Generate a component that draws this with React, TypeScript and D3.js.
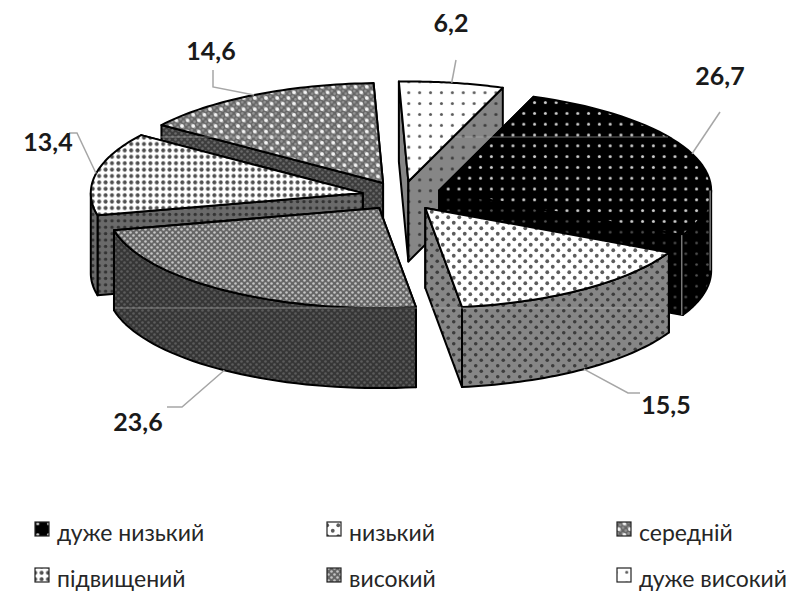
import { useEffect, useRef } from "react";
import * as d3 from "d3";

const categories = ["дуже низький", "низький", "середній", "підвищений", "високий", "дуже високий"];
// the fill patterns tie 14,6 to "середній" and 23,6 to "високий"
const values = [26.7, 15.5, 14.6, 13.4, 23.6, 6.2];
const labels = ["26,7", "15,5", "14,6", "13,4", "23,6", "6,2"];

// clockwise from the top of the pie
const pieOrder = [5, 0, 1, 4, 3, 2];
// painter's order, back to front
const drawOrder = [5, 0, 2, 3, 4, 1];

const labelPos = [[720, 75], [666, 404], [211, 50], [48, 141], [138, 421], [451, 22]];
const leaderElbows = [
  [[720, 112]],
  [[628, 393], [640, 393]],
  [[213, 87], [213, 70]],
  [[77, 133], [69, 133]],
  [[182, 407], [167, 407]],
  [[456, 60]],
];

type Style = { bg: string; dot: string; size: number; r: number; weave?: string; grid?: boolean };

const topStyle: Style[] = [
  { bg: "#000", dot: "#cfcfcf", size: 10.8, r: 1.5, grid: true },
  { bg: "#fff", dot: "#5c5c5c", size: 11, r: 1.9 },
  { bg: "#666", dot: "#f4f4f4", size: 11.2, r: 1.9, weave: "#949494" },
  { bg: "#fff", dot: "#4f4f4f", size: 6.4, r: 2, grid: true },
  { bg: "#666", dot: "#666", size: 6, r: 0, weave: "#c4c4c4" },
  { bg: "#fff", dot: "#5a5a5a", size: 10.9, r: 1.5, grid: true },
];
const sideStyle: Style[] = [
  { bg: "#000", dot: "#555", size: 10.8, r: 1.3, grid: true },
  { bg: "#868686", dot: "#3c3c3c", size: 11, r: 1.8 },
  { bg: "#3d3d3d", dot: "#3d3d3d", size: 6, r: 0, weave: "#6a6a6a" },
  { bg: "#6a6a6a", dot: "#333", size: 6.4, r: 1.7, grid: true },
  { bg: "#363636", dot: "#363636", size: 6, r: 0, weave: "#5c5c5c" },
  { bg: "#868686", dot: "#3c3c3c", size: 10.9, r: 1.6, grid: true },
];

const legendX = [35, 327, 617];
const legendY = [532, 578];

// faint horizontal scan streaks of the printed original
const streakY = [137, 308];
const streakX = [[[160, 375], [455, 668]], [[115, 417], [432, 660]]];

const WIDTH = 790;
const HEIGHT = 591;
const cx = 402;
const cy = 196;
const rx = 272;
const ry = 100;
const depth = 80;
const explode = 0.147;
const start = (-2 * Math.PI) / 180;

function addPattern(defs: any, id: string, s: Style) {
  const p = defs
    .append("pattern")
    .attr("id", id)
    .attr("patternUnits", "userSpaceOnUse")
    .attr("width", s.size)
    .attr("height", s.size);
  p.append("rect").attr("width", s.size).attr("height", s.size).attr("fill", s.bg);
  if (s.weave) {
    // fine lattice under any dots
    const n = Math.round(s.size / 6);
    const step = s.size / n;
    d3.range(n).forEach((i) => {
      d3.range(n).forEach((j) => {
        [[0.25, 0.25], [0.75, 0.75]].forEach(([u, v]) => {
          p.append("circle")
            .attr("cx", (i + u) * step)
            .attr("cy", (j + v) * step)
            .attr("r", 1.3)
            .attr("fill", s.weave);
        });
      });
    });
  }
  if (s.r > 0) {
    if (s.grid) {
      p.append("circle").attr("cx", s.size / 2).attr("cy", s.size / 2).attr("r", s.r).attr("fill", s.dot);
    } else {
      p.append("circle").attr("cx", s.size / 4).attr("cy", s.size / 4).attr("r", s.r).attr("fill", s.dot);
      p.append("circle").attr("cx", (3 * s.size) / 4).attr("cy", (3 * s.size) / 4).attr("r", s.r).attr("fill", s.dot);
    }
  }
}

export default function App() {
  const ref = useRef<SVGSVGElement>(null);

  useEffect(() => {
    if (!ref.current) return;
    const svg = d3.select(ref.current);
    svg.selectAll("*").remove();

    const defs = svg.append("defs");
    topStyle.forEach((s, i) => addPattern(defs, `top${i}`, s));
    sideStyle.forEach((s, i) => addPattern(defs, `side${i}`, s));

    const pie = d3
      .pie<number>()
      .sort(null)
      .value((i) => values[i])
      .startAngle(start)
      .endAngle(start + 2 * Math.PI);
    const arcs = pie(pieOrder);
    const byIndex = new Map(arcs.map((a) => [a.data, a]));

    // screen position of an angle on the tilted ellipse
    const onRim = (ox: number, oy: number, a: number, dy = 0): [number, number] => [
      ox + rx * Math.sin(a),
      oy - ry * Math.cos(a) + dy,
    ];
    const apexOf = (i: number): [number, number] => {
      const a = byIndex.get(i)!;
      const m = (a.startAngle + a.endAngle) / 2;
      return [cx + explode * rx * Math.sin(m), cy - explode * ry * Math.cos(m)];
    };
    const rimPoints = (ox: number, oy: number, a0: number, a1: number, dy = 0) => {
      const angles = d3.range(a0, a1, (a1 - a0) / 40).concat(a1);
      return angles.map((a) => onRim(ox, oy, a, dy));
    };
    const line = d3.line();

    drawOrder.forEach((i) => {
      const a = byIndex.get(i)!;
      const [ox, oy] = apexOf(i);
      const g = svg.append("g");

      const face = (d: string, fill: string) =>
        g
          .append("path")
          .attr("d", d)
          .attr("fill", fill)
          .attr("stroke", "#000")
          .attr("stroke-width", 2)
          .attr("stroke-linejoin", "round");

      // walls: further rim point first so the nearer wall lands on top
      const walls = [a.startAngle, a.endAngle]
        .map((t) => onRim(ox, oy, t))
        .sort((p, q) => p[1] - q[1]);
      walls.forEach((p) => {
        face(line([[ox, oy], p, [p[0], p[1] + depth], [ox, oy + depth]])! + "Z", `url(#side${i})`);
      });

      // outer wall, only the part that faces the viewer
      const a0 = Math.max(a.startAngle, Math.PI / 2);
      const a1 = Math.min(a.endAngle, (3 * Math.PI) / 2);
      if (a1 > a0) {
        const upper = rimPoints(ox, oy, a0, a1);
        const lower = rimPoints(ox, oy, a0, a1, depth).reverse();
        face(line([...upper, ...lower])! + "Z", `url(#side${i})`);
      }

      // top face
      face(line([[ox, oy], ...rimPoints(ox, oy, a.startAngle, a.endAngle)])! + "Z", `url(#top${i})`);

      // grey edges show on the black slice's side
      if (i === 0) {
        [Math.PI / 2, a.endAngle].forEach((t) => {
          const p = onRim(ox, oy, t);
          g.append("path")
            .attr("d", line([[p[0] - 1, p[1]], [p[0] - 1, p[1] + depth]])!)
            .attr("stroke", "#777")
            .attr("stroke-width", 1.5);
        });
      }
    });

    streakY.forEach((y, k) => {
      streakX[k].forEach(([x0, x1]) => {
        svg
          .append("line")
          .attr("x1", x0)
          .attr("x2", x1)
          .attr("y1", y)
          .attr("y2", y)
          .attr("stroke", "#b5b5b5")
          .attr("stroke-opacity", 0.6)
          .attr("stroke-width", 1.2);
      });
    });

    // leader lines
    values.forEach((_, i) => {
      const a = byIndex.get(i)!;
      const m = (a.startAngle + a.endAngle) / 2;
      const [ox, oy] = apexOf(i);
      const front = Math.cos(m) < 0 && Math.abs(Math.sin(m)) < 0.7;
      const from = onRim(ox, oy, m, front ? depth : 0);
      svg
        .append("path")
        .attr("d", line([from, ...(leaderElbows[i] as [number, number][])])!)
        .attr("fill", "none")
        .attr("stroke", "#a6a6a6")
        .attr("stroke-width", 1.5);
    });

    // value labels
    svg
      .selectAll(".value")
      .data(labels)
      .join("text")
      .attr("class", "value")
      .attr("x", (_, i) => labelPos[i][0])
      .attr("y", (_, i) => labelPos[i][1])
      .attr("text-anchor", "middle")
      .attr("dominant-baseline", "central")
      .style("font-family", "Lato, 'Open Sans', sans-serif")
      .style("font-weight", 700)
      .style("font-size", "25px")
      .style("fill", "#1a1a1a")
      .text((d) => d);

    // legend, three columns over two rows
    categories.forEach((c, i) => {
      const x = legendX[i % 3];
      const y = legendY[Math.floor(i / 3)];
      svg
        .append("rect")
        .attr("x", x)
        .attr("y", y - 10)
        .attr("width", 14)
        .attr("height", 14)
        .attr("fill", `url(#top${i})`)
        .attr("stroke", "#222")
        .attr("stroke-width", 1.2);
      svg
        .append("text")
        .attr("x", x + 22)
        .attr("y", y)
        .attr("dominant-baseline", "central")
        .style("font-family", "Lato, 'Open Sans', sans-serif")
        .style("font-size", "23px")
        .style("fill", "#262626")
        .text(c);
    });
  }, []);

  return (
    <svg
      ref={ref}
      width={WIDTH}
      height={HEIGHT}
      style={{ position: "absolute", left: 0, top: 0, background: "#fff" }}
    />
  );
}
